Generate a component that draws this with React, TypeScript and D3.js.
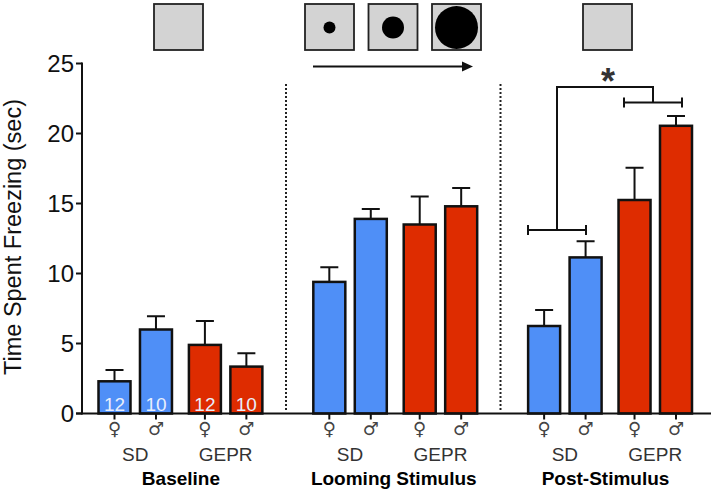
import React from "react";
import * as d3 from "d3";

const panels = ["Baseline", "Looming Stimulus", "Post-Stimulus"];
const strains = ["SD", "GEPR"];
const sexes = ["♀", "♂"];
const means = [2.3, 6.0, 4.9, 3.35, 9.4, 13.9, 13.5, 14.8, 6.25, 11.15, 15.25, 20.55];
const errorTops = [3.1, 6.95, 6.6, 4.3, 10.45, 14.6, 15.5, 16.1, 7.4, 12.3, 17.55, 21.25];
const sampleSizes = ["12", "10", "12", "10"];
const yTicks = [0, 5, 10, 15, 20, 25];
const stimulusRadii = [6, 11, 21.5];

const BLUE = "#4f8ff7";
const RED = "#de2c00";
const INK = "#111";
const FONT = "'Liberation Sans', Arial, sans-serif";

const slots: number[] = [];
{
  let s = 0;
  means.forEach((_, i) => {
    if (i > 0) s += i % 4 === 0 ? 2 : i % 2 === 0 ? 1.18 : 1;
    slots.push(s);
  });
}

const y = d3.scaleLinear().domain([0, 25]).range([413.5, 63.5]);
const x = d3.scaleLinear().domain([0, slots[slots.length - 1]]).range([114.5, 676]);
const BW = 32;
const panelNudge = [0.5, -1.5, -4.5];

const Square = ({ px, r }: { px: number; r?: number }) => (
  <g>
    <rect x={px} y={4} width={49} height={46} fill="#d3d3d3" stroke="#222" strokeWidth={1.8} />
    {r ? <circle cx={px + 24.5} cy={27.5} r={r} fill="#000" /> : null}
  </g>
);

export default function App() {
  const pairMid = (i: number) => (x(slots[i]) + x(slots[i + 1])) / 2;
  const xp = (i: number) => x(slots[i]);
  const br = (a: number, b: number, py: number) => (
    <g stroke={INK} strokeWidth={2} fill="none">
      <path d={`M${a},${py}H${b}`} />
      <path d={`M${a},${py - 5}V${py + 5}M${b},${py - 5}V${py + 5}`} />
    </g>
  );
  return (
    <svg
      width={714}
      height={492}
      style={{ position: "absolute", left: 0, top: 0, background: "#fff", fontFamily: FONT }}
    >
      <Square px={154} />
      {stimulusRadii.map((r, i) => (
        <Square key={i} px={305 + i * 63.5} r={r} />
      ))}
      <Square px={583} />
      <path d="M313,66.5H463" stroke={INK} strokeWidth={2} />
      <path d="M462,61.5L473,66.5L462,71.5Z" fill={INK} />

      {[286, 500.5].map((px) => (
        <line key={px} x1={px} x2={px} y1={84} y2={410} stroke="#222" strokeWidth={2} strokeDasharray="2 2" />
      ))}

      {means.map((m, i) => {
        const cx = xp(i);
        const fill = i % 4 < 2 ? BLUE : RED;
        return (
          <g key={i}>
            <path
              d={`M${cx},${y(m)}V${y(errorTops[i])}M${cx - 9},${y(errorTops[i])}H${cx + 9}`}
              stroke={INK}
              strokeWidth={2}
              fill="none"
            />
            <rect x={cx - BW / 2} y={y(m)} width={BW} height={y(0) - y(m)} fill={fill} stroke={INK} strokeWidth={2.5} />
            <line x1={cx} x2={cx} y1={y(0)} y2={y(0) + 6} stroke={INK} strokeWidth={2} />
            <text
              x={cx}
              y={435}
              textAnchor="middle"
              fontSize={18}
              fill="#444"
              style={{ fontFamily: "'DejaVu Sans', sans-serif" }}
            >
              {sexes[i % 2]}
            </text>
            {i < 4 ? (
              <text x={cx} y={411} textAnchor="middle" fontSize={19} fill="#e8eefc">
                {sampleSizes[i]}
              </text>
            ) : null}
          </g>
        );
      })}

      <line x1={76} x2={711} y1={y(0)} y2={y(0)} stroke={INK} strokeWidth={2} />
      <line x1={82} x2={82} y1={y(25) - 1} y2={y(0) + 1} stroke={INK} strokeWidth={2} />
      {yTicks.map((t) => (
        <g key={t}>
          <line x1={76} x2={82} y1={y(t)} y2={y(t)} stroke={INK} strokeWidth={2} />
          <text x={74} y={y(t) + 8.5} textAnchor="end" fontSize={24} fill={INK}>
            {t}
          </text>
        </g>
      ))}
      <text transform={`translate(21,237) rotate(-90)`} textAnchor="middle" fontSize={23.5} fill={INK}>
        Time Spent Freezing (sec)
      </text>

      {panels.map((p, k) => (
        <g key={p}>
          {strains.map((s, j) => (
            <text key={s} x={pairMid(k * 4 + j * 2)} y={461} textAnchor="middle" fontSize={19} fill="#333">
              {s}
            </text>
          ))}
          <text
            x={(xp(k * 4) + xp(k * 4 + 3)) / 2 + panelNudge[k]}
            y={484.5}
            textAnchor="middle"
            fontSize={19}
            fontWeight="bold"
            fill="#000"
          >
            {p}
          </text>
        </g>
      ))}

      {br(528, 586, 230)}
      {br(624, 682, 102.5)}
      <path d="M557,230V87H653V102.5" stroke={INK} strokeWidth={2} fill="none" />
      <text x={608} y={94} textAnchor="middle" fontSize={36} fontWeight="bold" fill="#333">
        *
      </text>
    </svg>
  );
}
